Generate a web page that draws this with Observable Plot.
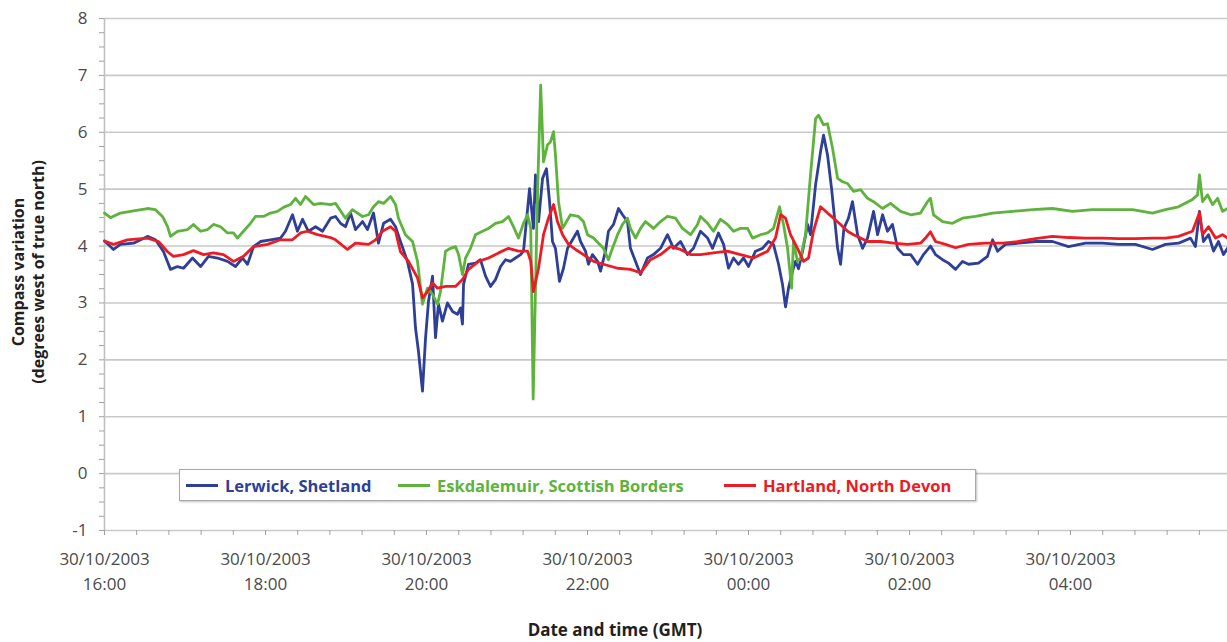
<!DOCTYPE html>
<html><head><meta charset="utf-8">
<script src="https://cdn.jsdelivr.net/npm/d3@7"></script>
<script src="https://cdn.jsdelivr.net/npm/@observablehq/plot@0.6"></script>
<style>
body{margin:0;background:#fff;}
#wrap{position:relative;width:1227px;height:642px;overflow:hidden;}
.legend{position:absolute;left:179px;top:469px;width:795px;height:30px;border:1px solid #a8a8a8;background:#fff;box-shadow:1px 1px 2px rgba(0,0,0,0.25);font-family:"Open Sans";font-weight:bold;font-size:16.5px;}
.item{position:absolute;top:0;height:30px;display:flex;align-items:center;white-space:nowrap;}
.swatch{width:32px;height:3px;margin-right:7px;}
.ytitle{position:absolute;left:28px;top:272px;transform:translate(-50%,-50%) rotate(-90deg);white-space:pre;text-align:center;line-height:20px;font-family:"Open Sans";font-weight:bold;font-size:16px;color:#231f20;}
.xtitle{position:absolute;left:615px;top:629px;transform:translate(-50%,-50%);white-space:nowrap;line-height:1;font-family:"Open Sans";font-weight:bold;font-size:17px;color:#231f20;}
</style></head><body><div id="wrap"></div>
<script>
// Minutes after 30/10/2003 16:00 GMT, compass variation (degrees west of true north)
const seriesNames = ["Lerwick, Shetland", "Eskdalemuir, Scottish Borders", "Hartland, North Devon"];
const seriesColors = ["#2e3f97", "#5db33b", "#ed1c24"];

const lerwick = [
[0,4.09],[6.7,3.94],[11.9,4.03],[21.6,4.05],[32.0,4.17],[38.0,4.11],[44.0,3.90],[49.2,3.59],[54.4,3.64],[58.9,3.61],
[65.6,3.79],[71.6,3.64],[77.5,3.82],[84.2,3.79],[91.7,3.73],[97.6,3.64],[102.9,3.79],[106.6,3.68],[111.1,3.99],[116.3,4.08],
[123.7,4.11],[131.2,4.14],[134.9,4.26],[140.1,4.55],[143.8,4.26],[147.6,4.47],[152.0,4.26],[157.3,4.34],[162.5,4.26],[168.5,4.49],
[172.2,4.52],[175.9,4.40],[179.6,4.34],[183.4,4.58],[187.1,4.29],[192.3,4.43],[196.0,4.29],[200.5,4.58],[204.2,4.05],[208.0,4.40],
[213.2,4.47],[216.9,4.34],[220.6,4.08],[225.8,3.73],[229.6,3.33],[231.8,2.56],[234.0,2.15],[237.0,1.45],[239.3,2.39],[241.5,3.03],
[244.5,3.47],[246.7,2.39],[248.9,2.98],[251.9,2.68],[255.6,3.00],[259.4,2.85],[263.1,2.80],[265.3,2.91],[266.8,2.63],[267.6,3.33],
[271.3,3.68],[276.5,3.70],[280.2,3.76],[284.0,3.47],[287.7,3.29],[291.4,3.41],[295.2,3.64],[298.9,3.76],[302.6,3.73],[306.3,3.79],
[310.1,3.85],[312.3,3.91],[316.8,5.01],[319.7,4.31],[321.2,5.25],[323.5,4.43],[326.5,5.19],[329.4,5.36],[331.7,4.78],[333.9,4.08],
[336.1,3.96],[339.1,3.38],[342.1,3.61],[345.1,3.96],[348.8,4.11],[352.5,4.26],[354.8,4.08],[358.5,3.91],[360.7,3.68],[363.7,3.85],
[367.5,3.73],[369.7,3.56],[373.4,3.91],[375.6,4.26],[379.4,4.38],[383.1,4.66],[386.1,4.55],[389.8,4.43],[392.0,3.96],[395.8,3.73],
[399.5,3.50],[404.7,3.79],[409.2,3.85],[414.4,3.96],[419.6,4.20],[424.1,3.96],[429.3,4.08],[434.5,3.85],[439.0,3.96],[444.2,4.26],
[449.5,4.14],[453.2,3.96],[457.6,4.23],[461.4,4.03],[465.1,3.61],[468.8,3.79],[472.5,3.68],[476.3,3.79],[480.0,3.64],[485.2,3.91],
[490.4,3.96],[494.9,4.08],[498.6,4.03],[502.4,3.68],[505.3,3.33],[507.6,2.93],[509.8,3.26],[512.8,3.56],[515.0,3.73],[517.3,3.60],
[520.3,3.91],[524.0,4.38],[526.2,4.20],[530.0,5.08],[533.7,5.66],[535.9,5.95],[538.9,5.60],[541.9,5.01],[543.4,4.66],[546.4,3.96],
[548.6,3.68],[551.1,4.31],[554.5,4.49],[557.5,4.78],[561.3,4.20],[565.0,3.96],[568.7,4.14],[573.2,4.61],[576.2,4.20],[579.9,4.55],
[583.6,4.26],[587.3,4.38],[591.1,3.96],[595.5,3.85],[600.9,3.85],[606.0,3.68],[610.4,3.85],[615.6,4.00],[619.4,3.85],[624.6,3.76],
[629.1,3.70],[634.3,3.59],[639.5,3.73],[644.0,3.68],[651.4,3.70],[658.1,3.82],[661.9,4.11],[665.6,3.91],[671.5,4.03],[681.2,4.05],
[693.9,4.08],[706.6,4.08],[718.5,3.99],[731.2,4.05],[743.8,4.05],[755.8,4.03],[768.4,4.03],[781.1,3.94],[790.8,4.03],[800.5,4.05],
[809.4,4.14],[813.1,3.99],[816.1,4.61],[819.1,4.08],[822.9,4.20],[826.6,3.91],[830.3,4.08],[834.0,3.85],[837.0,3.96]
];

const eskdalemuir = [
[0,4.58],[4.5,4.50],[11.9,4.58],[21.6,4.62],[32.0,4.66],[38.0,4.64],[43.2,4.52],[47.0,4.34],[49.2,4.17],[54.4,4.26],
[61.9,4.29],[66.3,4.38],[71.6,4.26],[76.8,4.29],[81.2,4.38],[86.5,4.34],[91.7,4.23],[96.1,4.23],[99.1,4.14],[103.6,4.26],
[108.8,4.40],[112.5,4.52],[118.5,4.52],[123.7,4.58],[128.9,4.61],[133.4,4.68],[138.6,4.73],[142.4,4.84],[146.1,4.73],[149.8,4.87],
[155.8,4.73],[161.0,4.75],[168.5,4.73],[172.2,4.75],[179.6,4.49],[184.8,4.64],[192.3,4.52],[196.8,4.55],[200.5,4.69],[204.2,4.78],
[208.0,4.75],[213.2,4.87],[216.9,4.73],[219.1,4.49],[224.3,4.20],[229.6,4.08],[233.3,3.73],[237.0,2.98],[240.7,3.26],[244.5,3.15],
[248.2,2.98],[250.4,3.20],[254.2,3.91],[257.9,3.96],[261.6,3.99],[263.9,3.85],[266.8,3.50],[269.1,3.79],[272.8,3.96],[276.5,4.20],
[281.7,4.26],[286.2,4.31],[291.4,4.40],[296.6,4.43],[301.1,4.52],[304.8,4.34],[308.6,4.14],[312.3,4.40],[315.3,4.55],[317.7,4.31],
[319.5,1.31],[322.7,4.90],[325.1,6.83],[327.2,5.48],[330.2,5.78],[332.4,5.83],[334.7,6.01],[336.1,5.60],[338.4,4.78],[341.4,4.31],
[347.3,4.55],[353.3,4.52],[357.0,4.43],[360.0,4.20],[364.5,4.14],[368.2,4.05],[371.9,3.96],[375.6,3.76],[378.6,3.96],[382.4,4.20],
[386.1,4.38],[389.8,4.49],[392.0,4.31],[395.8,4.14],[399.5,4.31],[403.2,4.43],[409.2,4.31],[414.4,4.43],[419.6,4.52],[425.6,4.49],
[430.8,4.31],[436.8,4.20],[442.0,4.38],[444.2,4.52],[449.5,4.40],[453.9,4.26],[459.1,4.47],[464.3,4.38],[468.8,4.26],[474.0,4.31],
[479.3,4.31],[483.0,4.14],[489.0,4.20],[494.2,4.23],[498.6,4.31],[503.1,4.69],[506.1,4.38],[509.1,3.96],[512.1,3.26],[513.5,4.08],
[516.5,3.73],[518.8,3.79],[522.5,4.20],[526.2,5.25],[530.0,6.24],[532.2,6.30],[535.9,6.13],[538.9,6.15],[542.7,5.71],[546.4,5.19],
[550.1,5.13],[553.8,5.10],[558.3,4.96],[563.5,4.99],[568.7,4.84],[573.2,4.78],[579.9,4.66],[585.8,4.75],[593.4,4.61],[600.9,4.55],
[608.2,4.58],[613.4,4.78],[615.6,4.84],[617.9,4.55],[624.6,4.43],[632.0,4.40],[639.5,4.49],[649.2,4.52],[661.9,4.58],[676.8,4.61],
[691.7,4.64],[706.6,4.66],[721.5,4.61],[736.4,4.64],[751.3,4.64],[766.2,4.64],[781.1,4.58],[790.8,4.64],[800.5,4.69],[810.9,4.82],
[814.7,4.90],[816.1,5.25],[818.4,4.78],[822.2,4.90],[825.9,4.73],[829.6,4.84],[833.3,4.61],[837.0,4.66]
];

const hartland = [
[0,4.09],[6.7,4.03],[17.1,4.11],[32.0,4.14],[40.2,4.08],[47.0,3.90],[51.4,3.82],[58.9,3.85],[66.3,3.92],[73.8,3.85],
[81.2,3.88],[88.7,3.85],[96.1,3.73],[103.6,3.82],[111.1,3.99],[121.5,4.03],[131.2,4.11],[140.1,4.11],[146.1,4.23],[151.3,4.26],
[158.8,4.20],[168.5,4.15],[172.2,4.11],[181.1,3.94],[187.1,4.05],[196.8,4.03],[202.0,4.11],[207.2,4.26],[213.2,4.34],[216.9,4.26],
[220.6,3.90],[226.6,3.73],[233.3,3.44],[237.0,3.09],[240.7,3.20],[244.5,3.35],[248.2,3.26],[254.2,3.29],[261.6,3.29],[266.8,3.41],
[271.3,3.59],[278.8,3.73],[286.2,3.79],[293.7,3.88],[301.1,3.96],[308.6,3.91],[315.3,3.91],[317.7,3.73],[319.7,3.20],[323.5,3.61],
[327.2,4.20],[330.9,4.49],[334.7,4.73],[337.6,4.43],[341.4,4.20],[345.8,4.03],[351.1,3.94],[357.0,3.85],[364.5,3.73],[371.9,3.68],
[382.4,3.61],[392.0,3.59],[399.5,3.53],[406.9,3.76],[414.4,3.85],[421.8,3.99],[429.3,3.94],[436.8,3.85],[444.2,3.85],[453.9,3.88],
[464.3,3.91],[474.0,3.85],[483.7,3.79],[494.2,3.91],[500.1,4.14],[503.9,4.55],[507.6,4.49],[511.3,4.20],[516.5,3.96],[521.0,3.73],
[524.7,3.79],[528.4,4.26],[533.7,4.69],[538.9,4.58],[543.4,4.49],[548.6,4.38],[553.8,4.26],[558.3,4.20],[563.5,4.14],[568.7,4.08],
[578.4,4.08],[588.1,4.05],[598.5,4.03],[608.2,4.05],[611.9,4.14],[615.6,4.25],[619.4,4.08],[626.8,4.03],[634.3,3.97],[644.0,4.03],
[656.6,4.05],[669.3,4.05],[681.2,4.08],[693.9,4.13],[706.6,4.17],[718.5,4.15],[731.2,4.14],[743.8,4.14],[755.8,4.13],[768.4,4.13],
[781.1,4.14],[790.8,4.14],[800.5,4.17],[810.9,4.26],[816.1,4.58],[818.4,4.20],[822.9,4.34],[828.1,4.14],[833.3,4.20],[837.0,4.14]
];

const xDomainMinutes = [0, 837];
const xTickMinutes = [0, 120, 240, 360, 480, 600, 720];
const xTickLabels = ["30/10/2003\n16:00", "30/10/2003\n18:00", "30/10/2003\n20:00", "30/10/2003\n22:00",
  "30/10/2003\n00:00", "30/10/2003\n02:00", "30/10/2003\n04:00"];
const yTicks = [-1, 0, 1, 2, 3, 4, 5, 6, 7, 8];
const yTickLabels = ["-1", "0", "1", "2", "3", "4", "5", "6", "7", "8"];
const yTitle = "Compass variation\n(degrees west of true north)";
const xTitle = "Date and time (GMT)";

const seriesData = [lerwick, eskdalemuir, hartland];
const rows = seriesData.flatMap((s, i) => s.map(([m, v]) => ({m, v, series: seriesNames[i]})));

const chart = Plot.plot({
  width: 1227, height: 642,
  marginLeft: 104, marginRight: 0, marginTop: 18, marginBottom: 112,
  style: {fontFamily: "Open Sans", fontSize: "17px", background: "#fff", color: "#4a4a4a"},
  x: {domain: xDomainMinutes, axis: null},
  y: {domain: [-1, 8], axis: null},
  marks: [
    Plot.gridY(yTicks, {stroke: "#c9c9c9", strokeOpacity: 1, strokeWidth: 1.6}),
    Plot.ruleX([0], {stroke: "#c0c0c0", strokeWidth: 1.6}),
    Plot.axisY(d3.range(-1, 8.001, 0.25), {tickSize: 5, stroke: "#a0a0a0", tickFormat: () => "", label: null}),
    Plot.axisY(yTicks, {tickSize: 0, tickPadding: 17, fill: "#4a4a4a", fontSize: 17, label: null,
      tickFormat: (d) => yTickLabels[yTicks.indexOf(d)]}),
    Plot.axisX(d3.range(0, 838, 24), {tickSize: 5, stroke: "#a0a0a0", tickFormat: () => "", label: null}),
    Plot.axisX(xTickMinutes, {tickSize: 0, tickPadding: 17, fill: "#4a4a4a", fontSize: 17, lineHeight: 1.45,
      tickFormat: (d) => xTickLabels[xTickMinutes.indexOf(d)], label: null}),
    ...seriesData.map((s, i) => Plot.line(rows.filter(r => r.series === seriesNames[i]),
      {x: "m", y: "v", stroke: seriesColors[i], strokeWidth: 2.8, strokeLinejoin: "round"}))
  ]
});

const wrap = document.getElementById("wrap");
wrap.appendChild(chart);

const yt = document.createElement("div");
yt.className = "ytitle"; yt.textContent = yTitle;
wrap.appendChild(yt);
const xt = document.createElement("div");
xt.className = "xtitle"; xt.textContent = xTitle;
wrap.appendChild(xt);

const legend = document.createElement("div");
legend.className = "legend";
const itemLefts = [6, 218, 544];
seriesNames.forEach((name, i) => {
  const item = document.createElement("div");
  item.className = "item";
  item.style.left = itemLefts[i] + "px";
  const sw = document.createElement("div");
  sw.className = "swatch";
  sw.style.background = seriesColors[i];
  const t = document.createElement("span");
  t.textContent = name;
  t.style.color = seriesColors[i];
  item.appendChild(sw); item.appendChild(t);
  legend.appendChild(item);
});
wrap.appendChild(legend);
</script></body></html>
